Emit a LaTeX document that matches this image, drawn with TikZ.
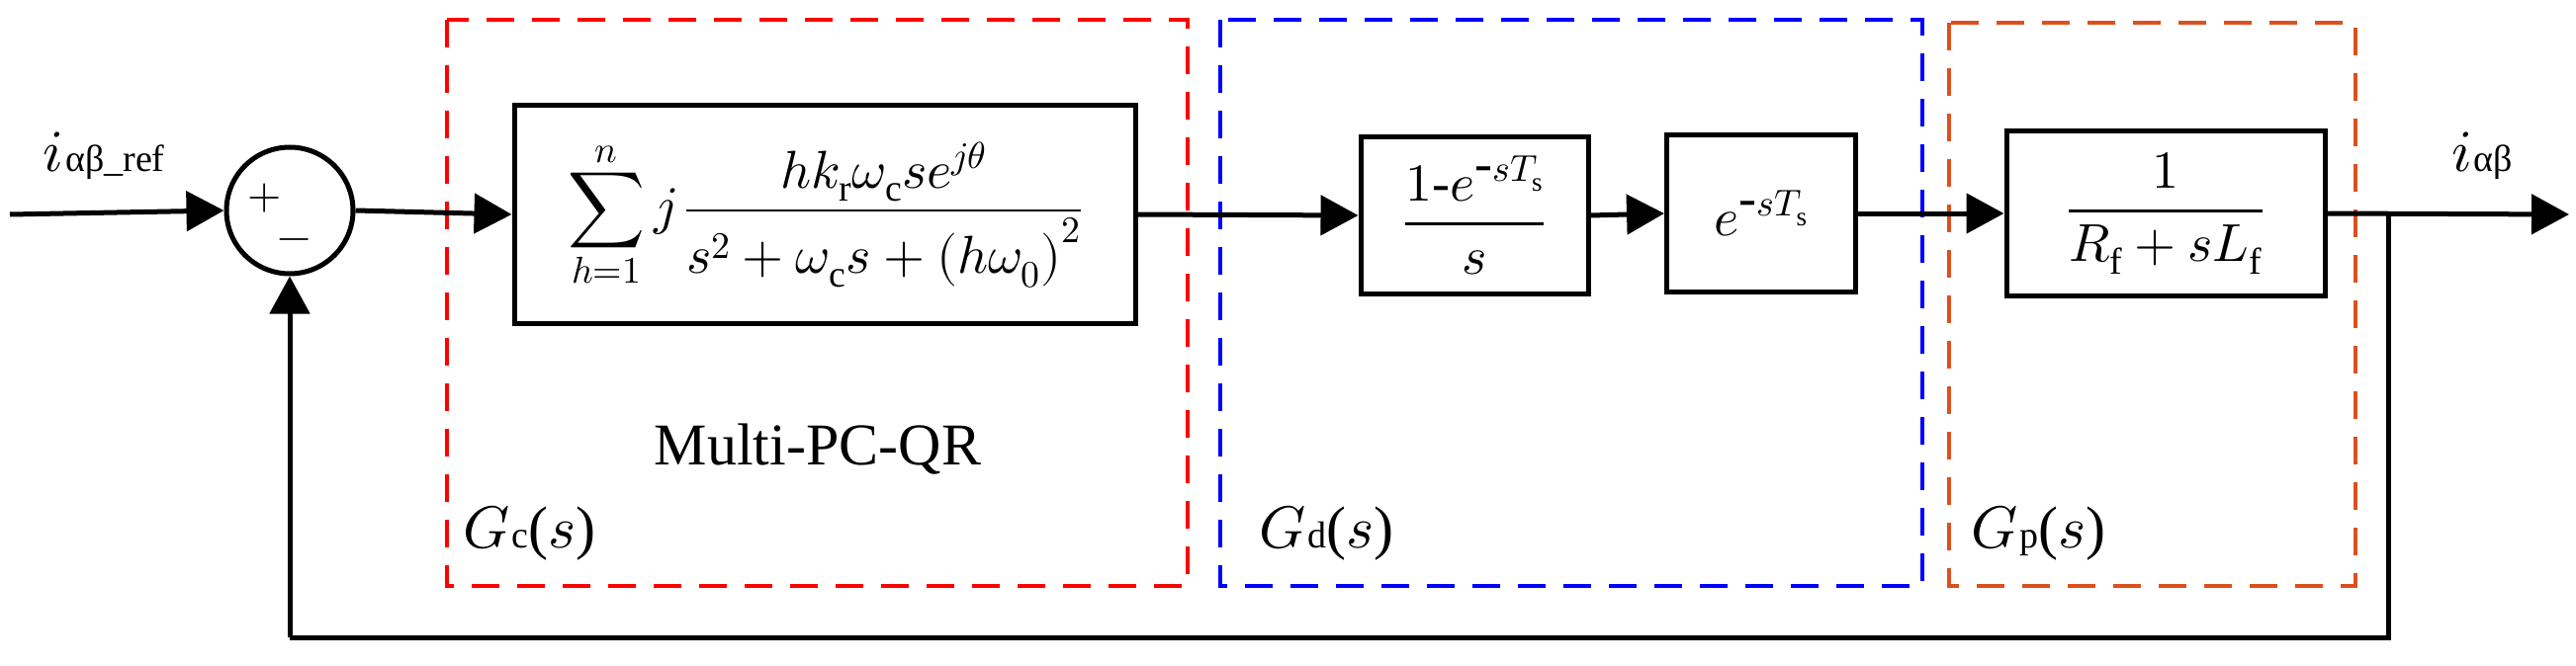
\documentclass[tikz,border=0pt]{standalone}
\usepackage{fontspec}
\usepackage{unicode-math}
\setmainfont{Liberation Serif}
\setmathfont{Latin Modern Math}
\usetikzlibrary{arrows.meta}
\begin{document}
\begin{tikzpicture}[x=1pt,y=-1pt,
  blk/.style={draw,line width=5pt,inner sep=0pt},
  ln/.style={line width=5pt},
  arr/.style={ln,-{Triangle[length=38pt,width=40pt]}},
  dbox/.style={line width=4pt,dash pattern=on 28pt off 18pt},
  big/.style={font=\fontsize{60}{64}\selectfont},
  mid/.style={font=\fontsize{54}{58}\selectfont}]
\useasboundingbox (0,0) rectangle (2605,674);
\definecolor{orng}{RGB}{220,80,30}
% dashed boxes
\draw[dbox,red] (452,20) rectangle (1201,593);
\draw[dbox,blue] (1234,20) rectangle (1944,593);
\draw[dbox,orng] (1971,23) rectangle (2382,593);
% sum
\node[draw,line width=5pt,circle,minimum size=128pt,inner sep=0pt] (sum) at (293,213) {};
\node[font=\fontsize{44}{50}\selectfont] at (268,200) {$+$};
\node[font=\fontsize{44}{50}\selectfont] at (298,248) {$-$};
% blocks
\node[blk,minimum width=628pt,minimum height=220pt] (gc) at (834,217) {};
\node[mid] at (834,217) {$\displaystyle\sum_{h=1}^{n} j\,\frac{hk_{\mathrm r}\omega_{\mathrm c}se^{j\theta}}{s^{2}+\omega_{\mathrm c}s+\left(h\omega_{0}\right)^{2}}$};
\node[blk,minimum width=230pt,minimum height=158pt] (zoh) at (1491,218) {};
\node[mid] at (1491,218) {$\displaystyle\frac{1\mbox{-}e^{\mbox{-}sT_{\mathrm s}}}{s}$};
\node[blk,minimum width=191pt,minimum height=159pt] (del) at (1781,216) {};
\node[mid] at (1781,216) {$e^{\mbox{-}sT_{\mathrm s}}$};
\node[blk,minimum width=322pt,minimum height=166pt] (gp) at (2190,216) {};
\node[mid] at (2190,216) {$\displaystyle\frac{1}{R_{\mathrm f}+sL_{\mathrm f}}$};
% connectors
\coordinate (in) at (10,217);
\coordinate (br) at (2415,217);
\coordinate (out) at (2598,217);
\coordinate (fb) at (2415,645);
\coordinate (fb2) at (293,645);
\draw[arr] (in) -- (sum.west);
\draw[arr] (sum.east) -- (gc.west);
\draw[arr] (gc.east) -- (zoh.west);
\draw[arr] (zoh.east) -- (del.west);
\draw[arr] (del.east) -- (gp.west);
\draw[arr] (gp.east) -- (out);
\draw[ln] (br) -- (fb) -- (fb2);
\draw[arr] (fb2) -- (sum.south);
% labels
\node[big] at (105,158) {$i$\kern2pt\fontsize{38}{40}\selectfont αβ\_ref};
\node[big] at (2510,158) {$i$\kern2pt\fontsize{38}{40}\selectfont αβ};
\node[big] at (827,455) {Multi-PC-QR};
\node[big,anchor=west] at (465,540) {$G$\kern2pt\fontsize{38}{40}\selectfont c\fontsize{60}{64}\selectfont($s$)};
\node[big,anchor=west] at (1270,540) {$G$\kern2pt\fontsize{38}{40}\selectfont d\fontsize{60}{64}\selectfont($s$)};
\node[big,anchor=west] at (1990,540) {$G$\kern2pt\fontsize{38}{40}\selectfont p\fontsize{60}{64}\selectfont($s$)};
\end{tikzpicture}
\end{document}
